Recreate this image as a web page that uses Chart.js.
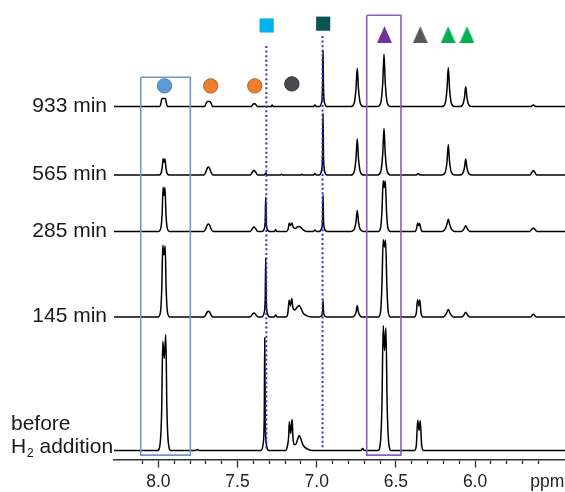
<!DOCTYPE html>
<html>
<head>
<meta charset="utf-8">
<script src="https://cdn.jsdelivr.net/npm/chart.js@4.4.1/dist/chart.umd.min.js"></script>
<style>
html,body{margin:0;padding:0;background:#fff}
canvas{display:block}
</style>
</head>
<body>
<canvas id="nmr" width="565" height="492"></canvas>
<script>
// traces: [ppm, height above that spectrum's baseline]
let trace933=[[8.28,0],
[7.990,0],[7.983,4],[7.978,8],[7.955,8],[7.950,4],[7.943,0],
[7.708,0],[7.698,3.5],[7.690,5],[7.675,5],[7.667,3.5],[7.657,0],
[7.413,0],[7.404,2],[7.398,2.7],[7.390,2.7],[7.384,2],[7.375,0],
[7.288,0],[7.281,1.5],[7.274,0],
[7.020,0],[7.011,1.5],[7.002,0],
[6.985,0],[6.969,4.5],[6.963,18.7],[6.960,56.7],[6.957,18.7],[6.951,4.5],[6.935,0],
[6.784,0],[6.764,3.1],[6.752,17.3],[6.744,38.4],[6.736,17.3],[6.724,3.1],[6.704,0],
[6.615,0],[6.595,4.2],[6.583,23.6],[6.575,52.4],[6.567,23.6],[6.555,4.2],[6.535,0],
[6.209,0],[6.189,3.1],[6.177,17.6],[6.169,39],[6.161,17.6],[6.149,3.1],[6.129,0],
[6.099,0],[6.079,1.6],[6.067,9],[6.059,20],[6.051,9],[6.039,1.6],[6.019,0],
[5.650,0],[5.632,1.5],[5.614,0],
[5.432,0]]

let trace565=[[8.28,0],
[7.998,0],[7.984,1.5],[7.976,7],[7.970,16.3],[7.964,13],[7.958,16],[7.952,7],[7.944,1.5],[7.930,0],
[7.712,0],[7.699,3.5],[7.690,7.3],[7.684,8],[7.678,7.3],[7.669,3.5],[7.656,0],
[7.420,0],[7.406,3],[7.396,4.7],[7.386,3],[7.372,0],
[7.332,0],[7.322,2],[7.312,0],
[7.230,0],[7.222,0.8],[7.214,0],
[7.100,0],[7.092,0.8],[7.084,0],
[7.020,0],[7.011,1.5],[7.002,0],
[6.985,0],[6.969,5],[6.963,20.5],[6.960,62],[6.957,20.5],[6.951,5],[6.935,0],
[6.784,0],[6.764,2.9],[6.752,16.3],[6.744,36.3],[6.736,16.3],[6.724,2.9],[6.704,0],
[6.615,0],[6.595,3.8],[6.583,21.2],[6.575,47],[6.567,21.2],[6.555,3.8],[6.535,0],
[6.370,0],[6.359,1.5],[6.348,0],
[6.209,0],[6.189,2.4],[6.177,13.6],[6.169,30.3],[6.161,13.6],[6.149,2.4],[6.129,0],
[6.099,0],[6.079,1.3],[6.067,7.2],[6.059,16],[6.051,7.2],[6.039,1.3],[6.019,0],
[5.655,0],[5.642,2.5],[5.632,4.7],[5.622,2.5],[5.609,0],
[5.432,0]]

let trace285=[[8.28,0],
[7.998,0],[7.984,3.5],[7.976,18],[7.970,44.3],[7.964,36],[7.958,44],[7.952,18],[7.944,3.5],[7.930,0],
[7.712,0],[7.699,3.2],[7.690,6.7],[7.684,7.3],[7.678,6.7],[7.669,3.2],[7.656,0],
[7.420,0],[7.406,2.8],[7.396,4.3],[7.386,2.8],[7.372,0],
[7.347,0],[7.331,2.7],[7.325,11.3],[7.322,34.3],[7.319,11.3],[7.313,2.7],[7.297,0],
[7.267,0],[7.259,1.7],[7.251,0],
[7.190,0],[7.180,2.5],[7.173,8.3],[7.165,6],[7.156,8.3],[7.148,4],
[7.135,3],[7.122,4.5],[7.110,5],[7.098,3.5],[7.085,1.5],[7.065,0],
[7.020,0],[7.011,1.5],[7.002,0],
[6.985,0],[6.969,2.9],[6.963,12.1],[6.960,36.7],[6.957,12.1],[6.951,2.9],[6.935,0],
[6.784,0],[6.764,1.7],[6.752,9.5],[6.744,21],[6.736,9.5],[6.724,1.7],[6.704,0],
[6.610,0],[6.596,4],[6.588,20],[6.580,50.7],[6.5735,44],[6.567,50.5],[6.559,20],[6.551,4],[6.537,0],
[6.380,0],[6.370,2.5],[6.362,8.3],[6.356,6],[6.350,8],[6.342,2.5],[6.332,0],
[6.209,0],[6.190,2],[6.178,7],[6.169,12.3],[6.160,7],[6.148,2],[6.129,0],
[6.085,0],[6.070,2.5],[6.059,5.7],[6.048,2.5],[6.033,0],
[5.655,0],[5.643,1.8],[5.632,3.3],[5.621,1.8],[5.609,0],
[5.432,0]]

let trace145=[[8.28,0],
[8.000,0],[7.986,5.5],[7.978,30],[7.972,71.7],[7.9645,62],[7.957,71],[7.951,30],[7.943,5.5],[7.929,0],
[7.712,0],[7.699,2.5],[7.690,5.2],[7.684,5.7],[7.678,5.2],[7.669,2.5],[7.656,0],
[7.420,0],[7.406,2.6],[7.396,4],[7.386,2.6],[7.372,0],
[7.347,0],[7.331,4.7],[7.325,19.5],[7.322,59],[7.319,19.5],[7.313,4.7],[7.297,0],
[7.268,0],[7.259,2],[7.250,0],
[7.192,0],[7.182,4],[7.174,17],[7.166,11],[7.157,18.3],[7.150,9],
[7.138,7],[7.124,9.5],[7.110,11.3],[7.098,8],[7.084,3.5],[7.060,1],[7.035,0],
[6.985,0],[6.969,1.3],[6.963,5.5],[6.960,16.7],[6.957,5.5],[6.951,1.3],[6.935,0],
[6.774,0],[6.760,1.5],[6.751,5],[6.744,11.3],[6.737,5],[6.728,1.5],[6.714,0],
[6.610,0],[6.596,6],[6.588,32],[6.580,77.3],[6.5725,70],[6.565,77],[6.557,32],[6.549,6],[6.535,0],
[6.382,0],[6.371,4],[6.363,17.3],[6.356,11],[6.349,17],[6.341,4],[6.330,0],
[6.200,0],[6.184,2.5],[6.169,7.3],[6.154,2.5],[6.138,0],
[6.085,0],[6.070,2],[6.059,4.7],[6.048,2],[6.033,0],
[5.650,0],[5.632,2.7],[5.614,0],
[5.432,0]]

let traceBefore=[[8.28,0],
[8.003,0],[7.988,8],[7.979,40],[7.972,109.3],[7.9625,92],[7.953,116],[7.946,42],[7.937,8],[7.922,0],
[7.765,0],[7.754,1],[7.743,0],
[7.352,0],[7.337,8],[7.331,37],[7.328,112.7],[7.325,37],[7.319,8],[7.303,0],
[7.196,0],[7.184,5],[7.177,14],[7.173,28.7],[7.164,17],[7.155,31.3],[7.150,13],[7.142,6],
[7.132,6],[7.121,11],[7.110,15],[7.099,11],[7.085,5],[7.060,1.5],[7.030,0],
[6.720,0],[6.710,2],[6.700,0],
[6.612,0],[6.597,9],[6.588,45],[6.580,125],[6.5715,100],[6.563,122.7],[6.555,45],[6.546,9],[6.531,0],
[6.382,0],[6.371,5],[6.362,30.3],[6.354,20],[6.346,29.7],[6.337,5],[6.326,0],
[5.432,0]]

let spectrumLabels=["933 min","565 min","285 min","145 min"]
let spectrumOffsets=[354,285.4,229,143.4,9.7]

// markers above the peaks
let circlePpm=[7.961,7.669,7.391,7.157]
let circleY=[374.7,374.7,374.7,376.7]
let squarePpm=[7.316,6.959]
let squareY=[435.2,437]
let trianglePpm=[6.572,6.346,6.170,6.051]
let triangleY=[426,426,426,426]

// dotted guides and boxes
let guidePpm=[7.318,6.963]
let guideTop=[414.7,424.7]
let guideBottom=[9.7,12.7]
let boxFrom=[8.111,6.684]
let boxTo=[7.798,6.468]
let boxTop=[383.4,445.4]
let boxBottom=[5,5]

let tickMajor=[8.0,7.5,7.0,6.5,6.0,5.5]

function isMajor(v){
return tickMajor.some(t=>Math.abs(t-v)<1e-6)
}

function triangleImage(color){
let c=document.createElement("canvas")
c.width=15
c.height=17
let g=c.getContext("2d")
g.fillStyle=color
g.beginPath()
g.moveTo(7.5,0)
g.lineTo(15,17)
g.lineTo(0,17)
g.closePath()
g.fill()
return c
}

let datasets=[]

let traces=[trace933,trace565,trace285,trace145,traceBefore]
traces.forEach((t,i)=>{
datasets.push({
data:t.map(p=>({x:p[0],y:p[1]+spectrumOffsets[i]})),
borderColor:"#000",
borderWidth:1.5,
pointRadius:0,
cubicInterpolationMode:"monotone",
order:4
})
})

let boxColors=["#7096cf","#8b5fc0"]
boxFrom.forEach((f,i)=>{
let t=boxTo[i]
datasets.push({
data:[{x:f,y:boxTop[i]},{x:t,y:boxTop[i]},{x:t,y:boxBottom[i]},{x:f,y:boxBottom[i]},{x:f,y:boxTop[i]}],
borderColor:boxColors[i],
borderWidth:1.6,
pointRadius:0,
tension:0,
order:3
})
})

guidePpm.forEach((g,i)=>{
datasets.push({
data:[{x:g,y:guideTop[i]},{x:g,y:guideBottom[i]}],
borderColor:"#2b2bf0",
borderWidth:2,
borderDash:[2,2.6],
pointRadius:0,
tension:0,
order:2
})
})

datasets.push({
data:circlePpm.map((p,i)=>({x:p,y:circleY[i]})),
showLine:false,
pointStyle:"circle",
pointRadius:7.2,
pointBackgroundColor:["#5b9bd5","#ed7d31","#ed7d31","#474a4f"],
pointBorderColor:["#4a7fb8","#b8641f","#b8641f","#303235"],
pointBorderWidth:1,
order:1
})

datasets.push({
data:squarePpm.map((p,i)=>({x:p,y:squareY[i]})),
showLine:false,
pointStyle:"rect",
pointRadius:10,
pointBackgroundColor:["#00b0f0","#0a5552"],
pointBorderWidth:0,
order:1
})

datasets.push({
data:trianglePpm.map((p,i)=>({x:p,y:triangleY[i]})),
showLine:false,
pointStyle:["#7030a0","#595959","#00b050","#00b050"].map(triangleImage),
pointRadius:8,
order:1
})

const textPlugin={
id:"texts",
afterDraw(c){
let ctx=c.ctx
let ys=c.scales.y
let xs=c.scales.x
ctx.save()
ctx.fillStyle="#1a1a1a"
ctx.font='21px "Liberation Sans", Arial, sans-serif'
ctx.textAlign="right"
ctx.textBaseline="alphabetic"
spectrumLabels.forEach((s,i)=>{
ctx.fillText(s,107,ys.getPixelForValue(spectrumOffsets[i])+5.4)
})
// before H2 addition
let yb=ys.getPixelForValue(spectrumOffsets[4])
ctx.textAlign="left"
ctx.fillText("before",11,yb-20)
ctx.fillText("H",11,yb+2.3)
let hw=ctx.measureText("H").width
ctx.font='12.5px "Liberation Sans", Arial, sans-serif'
ctx.fillText("2",11+hw+0.5,yb+6.3)
ctx.font='21px "Liberation Sans", Arial, sans-serif'
ctx.fillText(" addition",11+hw+7.5,yb+2.3)
// unit under the 5.5 tick
ctx.font='17.5px "Liberation Sans", Arial, sans-serif'
ctx.fillStyle="#222"
ctx.textAlign="center"
ctx.textBaseline="middle"
ctx.fillText("ppm",xs.getPixelForValue(5.5)-7,xs.top+22)
ctx.restore()
}
}

new Chart(document.getElementById("nmr"),{
type:"line",
data:{datasets:datasets},
options:{
responsive:false,
animation:false,
events:[],
devicePixelRatio:1,
layout:{autoPadding:false,padding:{left:114,right:0,top:0,bottom:-4.6}},
plugins:{legend:{display:false},tooltip:{enabled:false}},
scales:{
x:{
type:"linear",
reverse:true,
min:5.432,
max:8.28,
afterBuildTicks:s=>{
s.ticks=s.ticks.filter(t=>Math.abs(t.value*10-Math.round(t.value*10))<1e-6)
},
ticks:{
stepSize:0.1,
autoSkip:false,
maxRotation:0,
padding:4,
color:"#222",
font:{family:'"Liberation Sans", Arial, sans-serif',size:17.5},
callback:v=>(isMajor(v)&&Math.abs(v-5.5)>1e-6)?v.toFixed(1):""
},
grid:{
drawOnChartArea:false,
tickLength:7.5,
tickWidth:1.3,
tickColor:"#333",
tickBorderDash:ctx=>(ctx.tick&&isMajor(ctx.tick.value))?[]:[3.5,50]
},
border:{display:true,color:"#333",width:1.6}
},
y:{display:false,min:0,max:460.7}
}
},
plugins:[textPlugin]
})
</script>
</body>
</html>
